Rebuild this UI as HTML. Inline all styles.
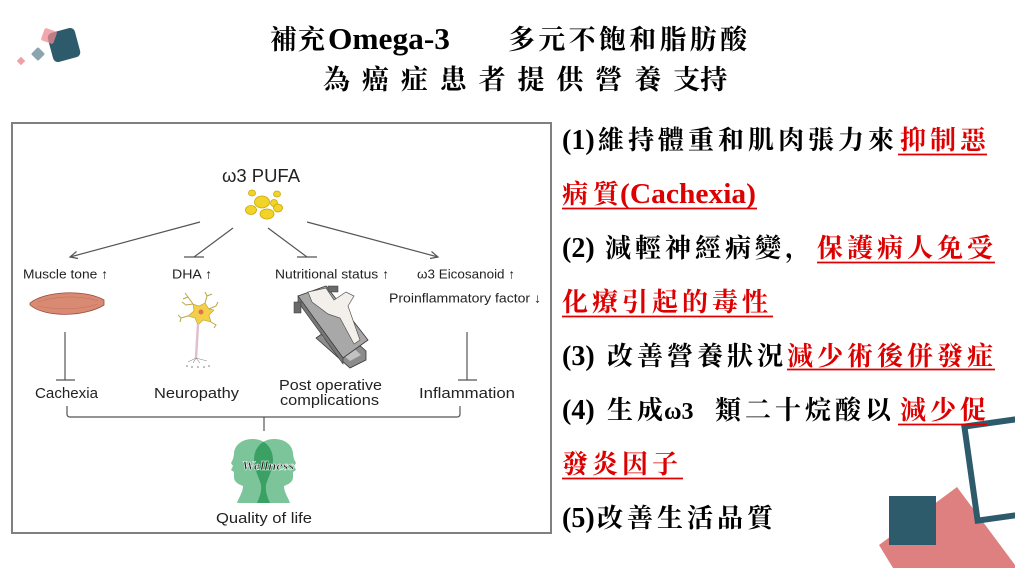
<!DOCTYPE html>
<html><head><meta charset="utf-8">
<style>
html,body{margin:0;padding:0;background:#fff;width:1015px;height:568px;overflow:hidden;}
svg{display:block;}
.cj{font-family:"Liberation Serif","Noto Serif CJK SC","Noto Serif CJK TC",serif;font-weight:700;}
.ls{font-family:"Liberation Serif",serif;font-weight:700;}
.sa{font-family:"Liberation Sans","DejaVu Sans",sans-serif;fill:#222;}
</style></head><body>
<svg width="1015" height="568" viewBox="0 0 1015 568" xmlns="http://www.w3.org/2000/svg" style="overflow:hidden">
<rect width="1015" height="568" fill="#fff"/>

<!-- top-left decoration -->
<rect x="-14" y="-15" width="28" height="30" rx="5" fill="#2e5b6b" transform="translate(64,45) rotate(-15)"/>
<rect x="-6.5" y="-6.5" width="13" height="13" rx="2" fill="#ec8a92" opacity="0.75" transform="translate(49,36) rotate(20)"/>
<rect x="-5" y="-5" width="10" height="10" rx="1.5" fill="#8ba4b0" transform="translate(38,54) rotate(45)"/>
<rect x="-3" y="-3" width="6" height="6" fill="#f0a0a5" transform="translate(21,61) rotate(45)"/>

<!-- bottom-right decoration -->
<polygon points="957,487 1015,565 1015,568 893,568 879,545" fill="#df8080"/>
<rect x="889" y="496" width="47" height="49" fill="#2e5b6b"/>
<rect x="964" y="427" width="95" height="95" fill="none" stroke="#2e5b6b" stroke-width="6" transform="rotate(-8 961 424)"/>

<!-- title -->
<text class="cj" y="49" font-size="27" fill="#000"><tspan x="270 298">補充</tspan><tspan class="ls" x="328" font-size="31" textLength="122" lengthAdjust="spacingAndGlyphs">Omega-3</tspan><tspan x="508 538.3 568.6 598.9 629.2 659.5 689.8 720.1">多元不飽和脂肪酸</tspan></text>
<text class="cj" y="89" font-size="27" fill="#000"><tspan x="323 361.9 400.8 439.7 478.6 517.5 556.4 595.3 634.2 673.1">為癌症患者提供營養支持</tspan></text>

<!-- diagram box -->
<rect x="12" y="123" width="539" height="410" fill="none" stroke="#808080" stroke-width="2"/>

<text class="sa" x="222" y="182" font-size="18" textLength="78" lengthAdjust="spacingAndGlyphs">ω3 PUFA</text>

<!-- blobs -->
<g fill="#f2d32a" stroke="#c9a600" stroke-width="0.8">
<ellipse cx="252" cy="193" rx="3.5" ry="3"/>
<ellipse cx="277" cy="194" rx="3.5" ry="3"/>
<ellipse cx="262" cy="202" rx="7.5" ry="6"/>
<ellipse cx="274" cy="203" rx="3.5" ry="3.5"/>
<ellipse cx="278" cy="208" rx="4.5" ry="4"/>
<ellipse cx="251" cy="210" rx="5.5" ry="4.5"/>
<ellipse cx="267" cy="214" rx="7" ry="5"/>
</g>

<!-- connectors -->
<g stroke="#555" stroke-width="1.2" fill="none">
<line x1="200" y1="222" x2="70" y2="257"/>
<polyline points="76.5,251.5 70,257 78,258.5"/>
<line x1="233" y1="228" x2="194" y2="257"/>
<line x1="184" y1="257" x2="204" y2="257"/>
<line x1="268" y1="228" x2="307" y2="257"/>
<line x1="297" y1="257" x2="317" y2="257"/>
<line x1="307" y1="222" x2="438" y2="257"/>
<polyline points="431.5,251.5 438,257 430,258.5"/>
<line x1="65" y1="332" x2="65" y2="380"/>
<line x1="56" y1="380" x2="75" y2="380"/>
<line x1="467" y1="332" x2="467" y2="380"/>
<line x1="458" y1="380" x2="477" y2="380"/>
<path d="M67,406 L67,414 Q67,417 70,417 L457,417 Q460,417 460,414 L460,406"/>
<line x1="264" y1="417" x2="264" y2="431"/>
</g>

<!-- row labels -->
<text class="sa" x="23" y="278.5" font-size="13" textLength="85" lengthAdjust="spacingAndGlyphs">Muscle tone ↑</text>
<text class="sa" x="172" y="278.5" font-size="13" textLength="40" lengthAdjust="spacingAndGlyphs">DHA ↑</text>
<text class="sa" x="275" y="278.5" font-size="13" textLength="114" lengthAdjust="spacingAndGlyphs">Nutritional status ↑</text>
<text class="sa" x="417" y="278.5" font-size="13" textLength="98" lengthAdjust="spacingAndGlyphs">ω3 Eicosanoid ↑</text>
<text class="sa" x="389" y="302.5" font-size="13" textLength="152" lengthAdjust="spacingAndGlyphs">Proinflammatory factor ↓</text>

<!-- muscle -->
<path d="M30,303 C45,291 85,289 104,300 L104,305 C85,317 45,318 30,305 Z" fill="#d98a72" stroke="#9a4a3a" stroke-width="0.8"/>
<g stroke="#c07060" stroke-width="0.5" fill="none">
<path d="M38,302 C55,296 80,295 98,301"/>
<path d="M38,306 C55,310 80,310 98,304"/>
</g>

<!-- neuron -->
<g stroke="#b8a840" stroke-width="1" fill="none">
<polyline points="193,304 188,297 185,293"/><polyline points="188,297 183,299"/>
<polyline points="205,303 207,296 205,292"/><polyline points="207,296 212,294"/>
<polyline points="209,309 216,306 218,302"/><polyline points="211,322 216,325 214,328"/>
<polyline points="188,316 181,318 178,315"/><polyline points="181,318 180,322"/>
<polyline points="193,304 186,305 182,302"/>
</g>
<polygon points="193,304 199,306 205,303 209,309 214,310 209,315 211,322 203,320 198,325 195,318 188,316 194,311" fill="#f3cf4a" stroke="#b8a030" stroke-width="0.6"/>
<circle cx="201" cy="312" r="2.5" fill="#e07050"/>
<line x1="198" y1="324" x2="196" y2="358" stroke="#e0c0d0" stroke-width="2.5"/>
<g stroke="#888" stroke-width="0.6"><line x1="196" y1="358" x2="188" y2="362"/><line x1="196" y1="358" x2="193" y2="363"/><line x1="196" y1="358" x2="200" y2="363"/><line x1="196" y1="358" x2="207" y2="361"/></g>
<g fill="#777"><circle cx="187" cy="366" r="0.8"/><circle cx="192" cy="367" r="0.8"/><circle cx="198" cy="367" r="0.8"/><circle cx="204" cy="367" r="0.8"/><circle cx="209" cy="366" r="0.8"/></g>

<!-- operating table -->
<polygon points="316,338 350,368 366,360 366,351 336,324" fill="#8c8c8c" stroke="#333" stroke-width="0.8"/>
<polygon points="322,337 350,361 361,355 334,330" fill="#c2c2c2"/>
<polygon points="298,296 326,286 368,340 343,358" fill="#a8a8a8" stroke="#333" stroke-width="0.8"/>
<polygon points="298,296 343,358 343,364 298,302" fill="#777" stroke="#333" stroke-width="0.6"/>
<rect x="294" y="302" width="7" height="11" fill="#6a6a6a" stroke="#333" stroke-width="0.5"/>
<rect x="328" y="286" width="10" height="6" fill="#6a6a6a" stroke="#333" stroke-width="0.5"/>
<path d="M308,292 L326,288 L334,300 L346,292 L354,296 L348,306 L360,340 L354,344 L340,318 L328,314 L312,302 Z" fill="#f3efea" stroke="#555" stroke-width="0.7"/>

<!-- bottom labels -->
<text class="sa" x="35" y="398" font-size="15" textLength="63" lengthAdjust="spacingAndGlyphs">Cachexia</text>
<text class="sa" x="154" y="398" font-size="15" textLength="85" lengthAdjust="spacingAndGlyphs">Neuropathy</text>
<text class="sa" x="279" y="390" font-size="15" textLength="103" lengthAdjust="spacingAndGlyphs">Post operative</text>
<text class="sa" x="280" y="405" font-size="15" textLength="99" lengthAdjust="spacingAndGlyphs">complications</text>
<text class="sa" x="419" y="398" font-size="15" textLength="96" lengthAdjust="spacingAndGlyphs">Inflammation</text>

<!-- heads -->
<defs>
<clipPath id="lh"><path d="M253,439 C265,439 273,448 273,460 C273,470 268,477 266,485 C265,492 268,498 270,503 L237,503 C239,497 243,492 243,486 C238,484 234,482 234,477 L234,472 L231,470 L233,466 L231,463 C233,460 234,456 234,453 C235,444 243,439 253,439 Z"/></clipPath>
</defs>
<path d="M253,439 C265,439 273,448 273,460 C273,470 268,477 266,485 C265,492 268,498 270,503 L237,503 C239,497 243,492 243,486 C238,484 234,482 234,477 L234,472 L231,470 L233,466 L231,463 C233,460 234,456 234,453 C235,444 243,439 253,439 Z" fill="#7cc59a"/>
<path d="M274,439 C262,439 254,448 254,460 C254,470 259,477 261,485 C262,492 259,498 257,503 L290,503 C288,497 284,492 284,486 C289,484 293,482 293,477 L293,472 L296,470 L294,466 L296,463 C294,460 293,456 293,453 C292,444 284,439 274,439 Z" fill="#7cc59a"/>
<path d="M274,439 C262,439 254,448 254,460 C254,470 259,477 261,485 C262,492 259,498 257,503 L290,503 C288,497 284,492 284,486 C289,484 293,482 293,477 L293,472 L296,470 L294,466 L296,463 C294,460 293,456 293,453 C292,444 284,439 274,439 Z" fill="#3aa064" clip-path="url(#lh)"/>
<text x="268" y="470" font-family="Liberation Serif, serif" font-style="italic" font-weight="700" font-size="13" text-anchor="middle" fill="#222" stroke="#fff" stroke-width="0.5" textLength="52" lengthAdjust="spacingAndGlyphs">Wellness</text>

<text class="sa" x="216" y="523" font-size="15" textLength="96" lengthAdjust="spacingAndGlyphs">Quality of life</text>

<!-- right text -->
<g font-size="26" style="letter-spacing:4px">
<text class="cj" y="149" fill="#000"><tspan class="ls" x="562" font-size="28" style="letter-spacing:0">(1)</tspan><tspan x="598">維持體重和肌肉張力來</tspan><tspan x="900" fill="#dd0000">抑制惡</tspan></text>
<text class="cj" y="203" fill="#dd0000"><tspan x="562 593">病質</tspan><tspan class="ls" x="620" font-size="28" style="letter-spacing:0" textLength="136" lengthAdjust="spacingAndGlyphs">(Cachexia)</tspan></text>
<text class="cj" y="257" fill="#000"><tspan class="ls" x="562" font-size="28" style="letter-spacing:0">(2)</tspan><tspan x="605">減輕神經病變，</tspan><tspan x="817" fill="#dd0000">保護病人免受</tspan></text>
<text class="cj" y="311" fill="#dd0000"><tspan x="562">化療引起的毒性</tspan></text>
<text class="cj" y="365" fill="#000"><tspan class="ls" x="562" font-size="28" style="letter-spacing:0">(3)</tspan><tspan x="607">改善營養狀況</tspan><tspan x="787" fill="#dd0000">減少術後併發症</tspan></text>
<text class="cj" y="419" fill="#000"><tspan class="ls" x="562" font-size="28" style="letter-spacing:0">(4)</tspan><tspan x="607">生成</tspan><tspan class="ls" x="664" font-size="24" style="letter-spacing:0">ω3</tspan><tspan x="715">類二十烷酸以</tspan><tspan x="900" fill="#dd0000">減少促</tspan></text>
<text class="cj" y="473" fill="#dd0000"><tspan x="562">發炎因子</tspan></text>
<text class="cj" y="527" fill="#000"><tspan class="ls" x="562" font-size="28" style="letter-spacing:0">(5)</tspan><tspan x="597">改善生活品質</tspan></text>
</g>

<!-- underlines -->
<g stroke="#dd0000" stroke-width="1.8">
<line x1="898" y1="154.5" x2="987" y2="154.5"/>
<line x1="562" y1="208.5" x2="757" y2="208.5"/>
<line x1="817" y1="262.5" x2="995" y2="262.5"/>
<line x1="562" y1="316.5" x2="773" y2="316.5"/>
<line x1="787" y1="369.5" x2="995" y2="369.5"/>
<line x1="898" y1="424.5" x2="987" y2="424.5"/>
<line x1="562" y1="478.5" x2="683" y2="478.5"/>
</g>
</svg>
</body></html>
